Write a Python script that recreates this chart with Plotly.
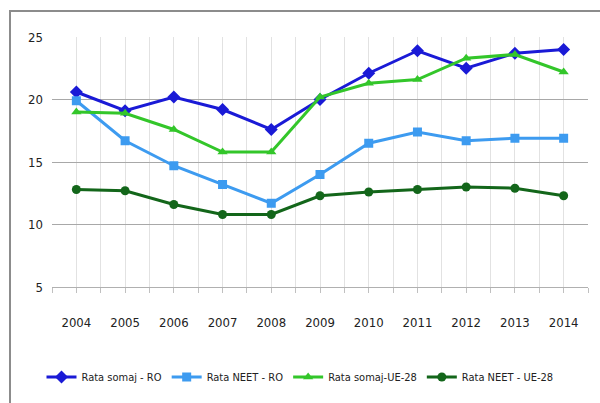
import plotly.graph_objects as go

years = [2004, 2005, 2006, 2007, 2008, 2009, 2010, 2011, 2012, 2013, 2014]
somaj_ro = [20.6, 19.1, 20.2, 19.2, 17.6, 20.0, 22.1, 23.9, 22.5, 23.7, 24.0]
neet_ro = [19.9, 16.7, 14.7, 13.2, 11.7, 14.0, 16.5, 17.4, 16.7, 16.9, 16.9]
somaj_ue = [19.0, 18.9, 17.6, 15.8, 15.8, 20.2, 21.3, 21.6, 23.3, 23.6, 22.2]
neet_ue = [12.8, 12.7, 11.6, 10.8, 10.8, 12.3, 12.6, 12.8, 13.0, 12.9, 12.3]

series = [
    ("Rata somaj - RO", somaj_ro, "#1a1ad6", "diamond", 10),
    ("Rata NEET - RO", neet_ro, "#3d9bf0", "square", 9),
    ("Rata somaj-UE-28", somaj_ue, "#33c62a", "triangle-up", 9),
    ("Rata NEET - UE-28", neet_ue, "#13661a", "circle", 9),
]

fig = go.Figure()
for name, vals, color, symbol, size in series:
    fig.add_trace(go.Scatter(
        x=years, y=vals, name=name, mode="lines+markers",
        line=dict(color=color, width=3),
        marker=dict(symbol=symbol, size=size, color=color),
    ))

font_family = "DejaVu Sans Condensed, Liberation Sans Narrow, Liberation Sans, sans-serif"

fig.update_layout(
    width=600, height=403,
    margin=dict(l=52, r=12, t=37, b=116, autoexpand=False),
    paper_bgcolor="white", plot_bgcolor="white",
    font=dict(family=font_family, size=13, color="#222222"),
    showlegend=True,
    legend=dict(orientation="h", xref="container", yref="container",
                x=0.5, xanchor="center", y=(403 - 377) / 403, yanchor="middle",
                font=dict(size=11), itemwidth=30, tracegroupgap=0),
    xaxis=dict(
        range=[2003.5, 2014.5], tickvals=years, ticktext=[str(y) for y in years],
        showgrid=True, gridcolor="#e2e2e2", gridwidth=1,
        minor=dict(dtick=0.5, tick0=2003.5, showgrid=True, gridcolor="#e2e2e2",
                   ticks="outside", ticklen=5, tickcolor="#c0c0c0"),
        ticks="", showline=True, linecolor="#b0b0b0", linewidth=1,
        zeroline=False, fixedrange=True, ticklabelstandoff=23,
    ),
    yaxis=dict(
        range=[5, 25], tickvals=[5, 10, 15, 20, 25],
        showgrid=True, gridcolor="#a8a8a8", gridwidth=1,
        zeroline=False, showline=False, ticks="", ticklabelstandoff=8,
        fixedrange=True,
    ),
    shapes=[dict(
        type="rect", xref="paper", yref="paper",
        x0=(10 - 52) / 536, x1=(610 - 52) / 536,
        y0=(287 - 420) / 250, y1=(287 - 11) / 250,
        line=dict(color="#8c8c8c", width=2), layer="below",
    )],
)

fig.write_html("out.html")
